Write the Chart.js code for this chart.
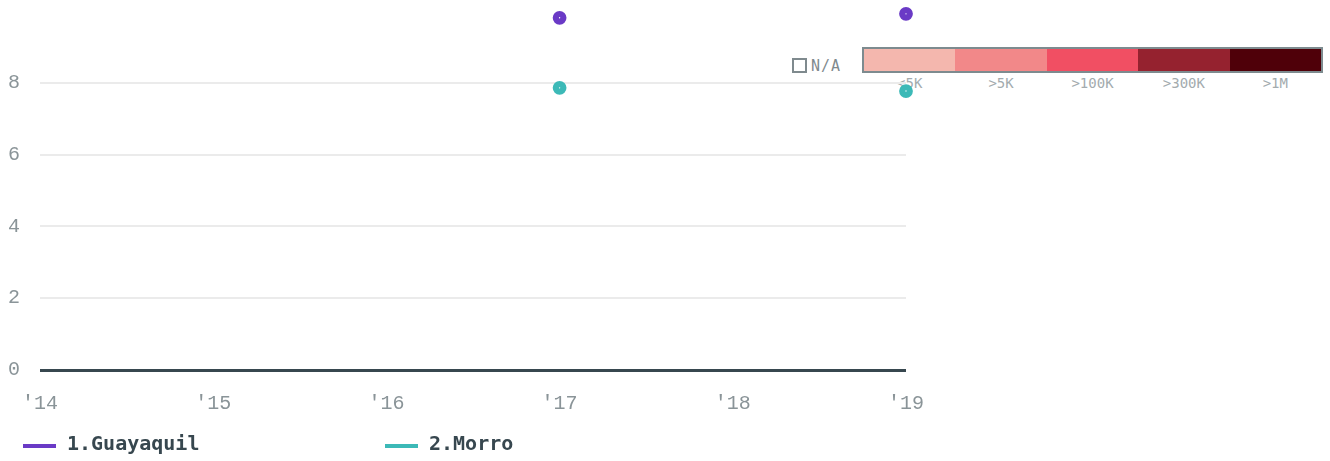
<!DOCTYPE html>
<html>
<head>
<meta charset="utf-8">
<script src="https://cdn.jsdelivr.net/npm/chart.js@4"></script>
<style>
    html, body { margin: 0; padding: 0; background: #fff; }
    #wrap { position: relative; width: 1330px; height: 461px; }
    #chart { position: absolute; left: 0; top: 0; z-index: 2; }
    #scale { position: absolute; left: 0; top: 0; z-index: 1; font-family: "DejaVu Sans Mono", monospace; }
    .na-box { position: absolute; left: 792px; top: 58px; width: 11px; height: 11px; border: 2px solid #7f8a8e; }
    .na-text { position: absolute; left: 811px; top: 57px; font-size: 15px; color: #7f8a8e; letter-spacing: 1px; }
    .bar { position: absolute; left: 862px; top: 47px; width: 457px; height: 22px; border: 2px solid #7d8b8f; display: flex; }
    .bar div { flex: 1; }
    .bin-label { position: absolute; top: 75px; font-size: 14px; color: #a3abae; transform: translateX(-50%); }
</style>
</head>
<body>
<div id="wrap">
    <div id="scale"></div>
    <canvas id="chart" width="1330" height="461"></canvas>
</div>
<script>
const years = ["'14", "'15", "'16", "'17", "'18", "'19"];
const guayaquil = [null, null, null, 9.81, null, 9.92];
const morro = [null, null, null, 7.86, null, 7.77];
const seriesNames = ["1.Guayaquil", "2.Morro"];
const seriesColors = ["#6a3ac6", "#3cb9b7"];

const binLabels = ["<5K", ">5K", ">100K", ">300K", ">1M"];
const binColors = ["#f4b7ae", "#f28889", "#f14f63", "#95222f", "#4f0009"];

// colour scale legend (sits behind the canvas)
const scaleDiv = document.getElementById("scale");
let html = '<div class="na-box"></div><div class="na-text">N/A</div><div class="bar">';
binColors.forEach(c => { html += `<div style="background:${c}"></div>`; });
html += '</div>';
binLabels.forEach((label, i) => {
    const x = 862 + 2 + (i + 0.5) * 457 / binLabels.length;
    html += `<div class="bin-label" style="left:${x}px">${label}</div>`;
});
scaleDiv.innerHTML = html;

const bottomLegend = {
    id: "bottomLegend",
    afterDraw(chart) {
        const ctx = chart.ctx;
        const xs = [23, 385];
        ctx.save();
        chart.data.datasets.forEach((ds, i) => {
            const x = xs[i];
            ctx.strokeStyle = ds.borderColor;
            ctx.lineWidth = 4;
            ctx.beginPath();
            ctx.moveTo(x, 446);
            ctx.lineTo(x + 33, 446);
            ctx.stroke();
            ctx.fillStyle = "#37474f";
            ctx.font = "bold 20px 'DejaVu Sans Mono'";
            ctx.textBaseline = "middle";
            ctx.fillText(ds.label, x + 44, 445);
        });
        ctx.restore();
    }
};

const tickFont = { family: "Liberation Mono", size: 20 };

new Chart(document.getElementById("chart"), {
    type: "line",
    data: {
        labels: years,
        datasets: [guayaquil, morro].map((values, i) => ({
            label: seriesNames[i],
            data: values,
            borderColor: seriesColors[i],
            backgroundColor: "#ffffff",
            borderWidth: 4,
            pointRadius: 3.8,
            pointBorderWidth: 6.2,
            pointHoverRadius: 3.8,
            spanGaps: false,
            clip: false
        }))
    },
    options: {
        responsive: false,
        animation: false,
        layout: { padding: { top: 11, right: 424, bottom: 0, left: 8 } },
        plugins: { legend: { display: false }, tooltip: { enabled: false } },
        scales: {
            x: {
                offset: false,
                afterFit(axis) { axis.height = 91; axis.paddingLeft = 0; axis.paddingRight = 0; },
                grid: { display: false },
                border: { display: false },
                ticks: {
                    color: "#8a9498",
                    font: tickFont,
                    padding: 14,
                    maxRotation: 0
                }
            },
            y: {
                min: 0,
                max: 10,
                afterFit(axis) { axis.width = 32; axis.paddingTop = 0; axis.paddingBottom = 0; },
                afterBuildTicks(axis) {
                    axis.ticks = axis.ticks.filter(t => t.value <= 8);
                },
                grid: {
                    drawTicks: false,
                    color: ctx => ctx.tick && ctx.tick.value === 0 ? "#37474f" : "#ebebeb",
                    lineWidth: ctx => ctx.tick && ctx.tick.value === 0 ? 3 : 2
                },
                border: { display: false },
                ticks: {
                    stepSize: 2,
                    color: "#8a9498",
                    font: tickFont,
                    padding: 20
                }
            }
        }
    },
    plugins: [bottomLegend]
});
</script>
</body>
</html>
